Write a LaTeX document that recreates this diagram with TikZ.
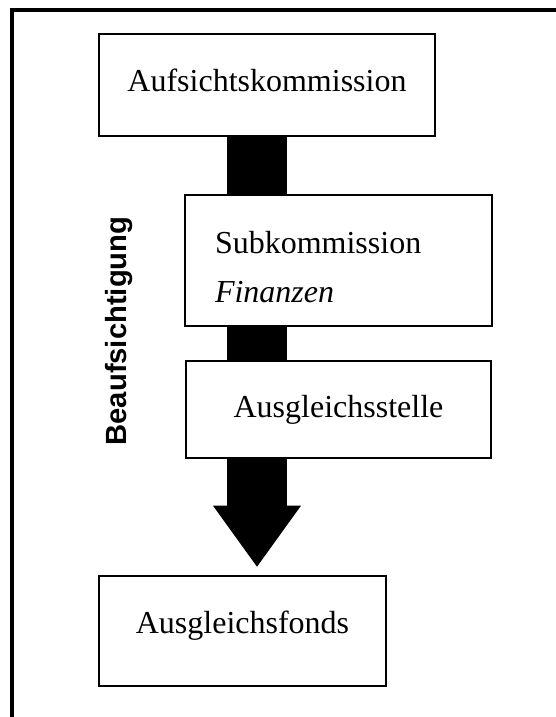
\documentclass[tikz,border=0pt]{standalone}
\usepackage{fontspec}
\setmainfont{Liberation Serif}
\newfontfamily\labelfont{Liberation Sans}
\usetikzlibrary{arrows.meta,backgrounds}

\begin{document}
\begin{tikzpicture}[x=0.5pt,y=-0.5pt,
				box/.style={draw,line width=1.3pt,fill=white,inner sep=0pt,
					font=\fontsize{16}{24.5}\selectfont,text height=11pt},
				flow/.style={line width=30pt,shorten >=4pt,
					-{Triangle[width=44pt,length=30.5pt,line width=0pt]}}]
\useasboundingbox (0,0) rectangle (556,717);
% frame
\draw[line width=1.6pt] (556,10) -- (12,10) -- (12,717);
% boxes
\node[box,minimum width=168pt,minimum height=51pt,text depth=4pt] (aufsicht) at (267,85) {Aufsichtskommission};
\node[box,minimum width=153.5pt,minimum height=65.5pt,text width=123.5pt,align=left,text depth=18.5pt] (subkom) at (338.5,260.5) {Subkommission\\\textit{Finanzen}};
\node[box,minimum width=152.5pt,minimum height=48.5pt,text depth=3.5pt] (stelle) at (338.5,409.5) {Ausgleichsstelle};
\node[box,minimum width=143.5pt,minimum height=55pt,text depth=9pt] (fonds) at (242.5,631) {Ausgleichsfonds};
\node[rotate=90,font=\labelfont\bfseries\fontsize{14.6}{17}\selectfont] (beauf) at (119,331) {Beaufsichtigung};
% arrow behind the boxes
\coordinate (shaft) at (257,136);
\begin{scope}[on background layer]
\draw[flow] (aufsicht.south -| shaft) -- (fonds.north -| shaft);
\end{scope}
\end{tikzpicture}
\end{document}
